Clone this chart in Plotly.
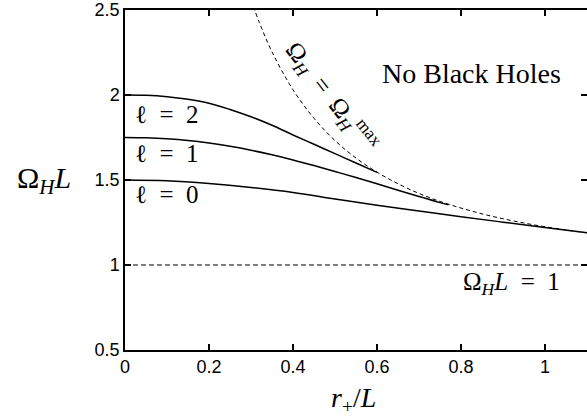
import plotly.graph_objects as go

# ---- data ----
l2_x = [0.0, 0.05, 0.1, 0.15, 0.2, 0.25, 0.3, 0.35, 0.4, 0.45, 0.5, 0.55, 0.6]
l2_y = [2.0, 1.998, 1.99, 1.975, 1.952, 1.915, 1.872, 1.822, 1.765, 1.71, 1.655, 1.6, 1.545]

l1_x = [0.0, 0.05, 0.1, 0.15, 0.2, 0.25, 0.3, 0.35, 0.4, 0.45, 0.5, 0.55, 0.6, 0.65, 0.7, 0.75, 0.77]
l1_y = [1.75, 1.748, 1.742, 1.732, 1.717, 1.698, 1.675, 1.648, 1.618, 1.585, 1.55, 1.515, 1.478, 1.44, 1.403, 1.367, 1.354]

l0_x = [0.0, 0.1, 0.2, 0.3, 0.4, 0.5, 0.6, 0.7, 0.8, 0.9, 1.0, 1.1]
l0_y = [1.5, 1.495, 1.479, 1.456, 1.427, 1.388, 1.352, 1.318, 1.284, 1.252, 1.221, 1.19]

omax_x = [0.30, 0.32, 0.35, 0.4, 0.45, 0.5, 0.55, 0.6, 0.65, 0.7, 0.75, 0.8, 0.85, 0.9, 0.95, 1.0, 1.05, 1.1]
omax_y = [2.56, 2.426, 2.254, 2.031, 1.863, 1.732, 1.629, 1.546, 1.478, 1.421, 1.374, 1.335, 1.301, 1.272, 1.247, 1.225, 1.206, 1.189]

one_x = [0.0, 1.1]
one_y = [1.0, 1.0]

x_ticks = [0, 0.2, 0.4, 0.6, 0.8, 1.0]
x_ticktext = ["0", "0.2", "0.4", "0.6", "0.8", "1"]
y_ticks = [0.5, 1.0, 1.5, 2.0, 2.5]
y_ticktext = ["0.5", "1", "1.5", "2", "2.5"]

SERIF = "Liberation Serif, Times New Roman, serif"
SANS = "Liberation Sans, Arial, sans-serif"
SP = "\u2002"

fig = go.Figure()
solid = dict(color="black", width=1.5)
for xs, ys in [(l2_x, l2_y), (l1_x, l1_y), (l0_x, l0_y)]:
    fig.add_trace(go.Scatter(x=xs, y=ys, mode="lines", line=dict(shape="spline", **solid),
                             showlegend=False, hoverinfo="skip"))
fig.add_trace(go.Scatter(x=omax_x, y=omax_y, mode="lines",
                         line=dict(color="black", width=1, dash="4px,3px", shape="spline"),
                         showlegend=False, hoverinfo="skip"))
fig.add_trace(go.Scatter(x=one_x, y=one_y, mode="lines",
                         line=dict(color="black", width=1, dash="5px,3px"),
                         showlegend=False, hoverinfo="skip"))

YR = [0.4999, 2.5001]
fig.update_layout(
    width=589, height=417,
    margin=dict(l=125, r=0, t=9, b=67),
    paper_bgcolor="white", plot_bgcolor="white",
    xaxis=dict(range=[0, 1.1], tickvals=x_ticks, ticktext=x_ticktext,
               ticks="inside", ticklen=6, tickwidth=1.5, tickcolor="black",
               showline=True, linecolor="black", linewidth=1.5, mirror="ticks",
               showgrid=False, zeroline=False, ticklabeloverflow="allow",
               tickfont=dict(family=SANS, size=18, color="black")),
    yaxis=dict(range=YR, tickvals=y_ticks, ticktext=y_ticktext,
               ticks="inside", ticklen=6, tickwidth=1.5, tickcolor="black",
               showline=True, linecolor="black", linewidth=1.5, mirror="ticks",
               showgrid=False, zeroline=False, ticklabeloverflow="allow",
               tickfont=dict(family=SANS, size=18, color="black")),
)

ann_font = dict(family=SERIF, size=25, color="black")
anns = [
    dict(x=0.019, y=1.884, text="ℓ" + SP + "=" + SP + "2", xanchor="left"),
    dict(x=0.019, y=1.655, text="ℓ" + SP + "=" + SP + "1", xanchor="left"),
    dict(x=0.019, y=1.415, text="ℓ" + SP + "=" + SP + "0", xanchor="left"),
    dict(x=0.826, y=2.125, text="No Black Holes", xanchor="center", font=dict(family=SERIF, size=28, color="black")),
    dict(x=0.921, y=0.893, text="Ω<sub><i>H</i></sub><i>L</i>" + SP + "=" + SP + "1", xanchor="center"),
    dict(x=0.493, y=1.99, text="Ω<sub><i>H</i></sub>" + SP + "=" + SP + "Ω<sub><i>H</i></sub><sup>max</sup>",
         xanchor="center", textangle=52),
]
for a in anns:
    a.setdefault("font", ann_font)
    fig.add_annotation(xref="x", yref="y", yanchor="middle", showarrow=False, **a)

fig.add_annotation(xref="paper", yref="y", x=-0.175, y=1.5, xanchor="center", yanchor="middle",
                   text="Ω<sub><i>H</i></sub><i>L</i>", showarrow=False,
                   font=dict(family=SERIF, size=30, color="black"))
fig.add_annotation(xref="x", yref="paper", x=0.543, y=-0.147, xanchor="center", yanchor="middle",
                   text="<i>r</i><sub>+</sub>/<i>L</i>", showarrow=False,
                   font=dict(family=SERIF, size=28, color="black"))

fig.write_html("out.html", config={"displayModeBar": False},
               post_script="document.body.style.margin='0';document.body.style.overflow='hidden';document.documentElement.style.overflow='hidden';")
